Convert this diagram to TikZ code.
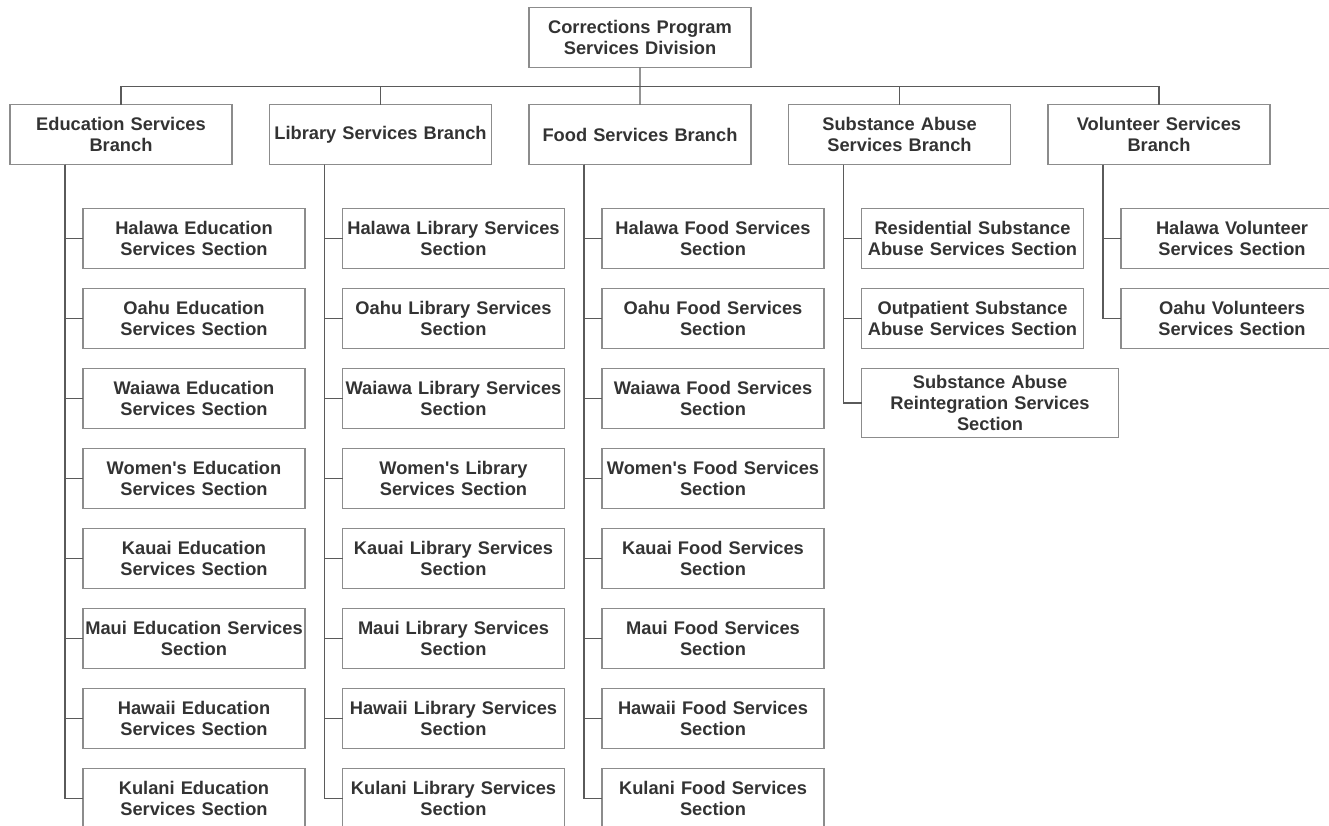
\documentclass[tikz,border=0pt]{standalone}
\usepackage{fontspec}
\setmainfont{Liberation Sans}
\usetikzlibrary{positioning}
\definecolor{boxline}{HTML}{8C8C8C}
\definecolor{linkline}{HTML}{5A5A5A}
\definecolor{txt}{HTML}{333333}

\begin{document}
\begin{tikzpicture}[
  node distance=0.4cm and 0.75cm,
  unit/.style={draw=boxline,line width=0.6pt,text=txt,
    font=\fontsize{10.4}{11.9}\selectfont\bfseries,
    text width=4.4cm,inner xsep=0.02cm,inner ysep=0.05cm,
    minimum height=1.2cm,align=center,outer sep=0pt},
  link/.style={draw=linkline,line width=0.6pt}
]
\useasboundingbox (0,0) rectangle (26.58,-16.5);

% division and branches
\node[unit] (div) at (12.8,-0.75) {Corrections Program\\Services Division};
\node[unit] (edu) at (2.42,-2.69) {Education Services\\Branch};
\node[unit,right=of edu] (lib) {Library Services Branch};
\node[unit,right=of lib] (food) {Food Services Branch};
\node[unit,right=of food] (sub) {Substance Abuse\\Services Branch};
\node[unit,right=of sub] (vol) {Volunteer Services\\Branch};

% education sections
\node[unit,below right=0.88cm and 1.46cm of edu.south west] (edu1) {Halawa Education\\Services Section};
\node[unit,below=of edu1] (edu2) {Oahu Education\\Services Section};
\node[unit,below=of edu2] (edu3) {Waiawa Education\\Services Section};
\node[unit,below=of edu3] (edu4) {Women\textquotesingle s Education\\Services Section};
\node[unit,below=of edu4] (edu5) {Kauai Education\\Services Section};
\node[unit,below=of edu5] (edu6) {Maui Education Services\\Section};
\node[unit,below=of edu6] (edu7) {Hawaii Education\\Services Section};
\node[unit,below=of edu7] (edu8) {Kulani Education\\Services Section};

% library sections
\node[unit,below right=0.88cm and 1.46cm of lib.south west] (lib1) {Halawa Library Services\\Section};
\node[unit,below=of lib1] (lib2) {Oahu Library Services\\Section};
\node[unit,below=of lib2] (lib3) {Waiawa Library Services\\Section};
\node[unit,below=of lib3] (lib4) {Women\textquotesingle s Library\\Services Section};
\node[unit,below=of lib4] (lib5) {Kauai Library Services\\Section};
\node[unit,below=of lib5] (lib6) {Maui Library Services\\Section};
\node[unit,below=of lib6] (lib7) {Hawaii Library Services\\Section};
\node[unit,below=of lib7] (lib8) {Kulani Library Services\\Section};

% food sections
\node[unit,below right=0.88cm and 1.46cm of food.south west] (food1) {Halawa Food Services\\Section};
\node[unit,below=of food1] (food2) {Oahu Food Services\\Section};
\node[unit,below=of food2] (food3) {Waiawa Food Services\\Section};
\node[unit,below=of food3] (food4) {Women\textquotesingle s Food Services\\Section};
\node[unit,below=of food4] (food5) {Kauai Food Services\\Section};
\node[unit,below=of food5] (food6) {Maui Food Services\\Section};
\node[unit,below=of food6] (food7) {Hawaii Food Services\\Section};
\node[unit,below=of food7] (food8) {Kulani Food Services\\Section};

% substance abuse sections
\node[unit,below right=0.88cm and 1.46cm of sub.south west] (sub1) {Residential Substance\\Abuse Services Section};
\node[unit,below=of sub1] (sub2) {Outpatient Substance\\Abuse Services Section};
\node[unit,text width=5.1cm,minimum height=1.38cm,below=of sub2.south west,anchor=north west] (sub3) {Substance Abuse\\Reintegration Services\\Section};

% volunteer sections
\node[unit,below right=0.88cm and 1.46cm of vol.south west] (vol1) {Halawa Volunteer\\Services Section};
\node[unit,below=of vol1] (vol2) {Oahu Volunteers\\Services Section};

% connectors
\coordinate (bus) at ([yshift=-0.38cm]div.south);
\draw[link] (div) -- (food);
\foreach \b in {edu,lib,sub,vol}
  \draw[link] (bus) -| (\b.north);
\foreach \b in {edu,lib,food,sub,vol}
  \coordinate (\b-t) at ([xshift=1.1cm]\b.south west);
\foreach \b in {edu,lib,food}
  \foreach \i in {1,...,8}
    \draw[link] (\b-t) |- (\b\i.west);
\foreach \i in {1,2,3}
  \draw[link] (sub-t) |- (sub\i.west);
\foreach \i in {1,2}
  \draw[link] (vol-t) |- (vol\i.west);
\end{tikzpicture}
\end{document}
